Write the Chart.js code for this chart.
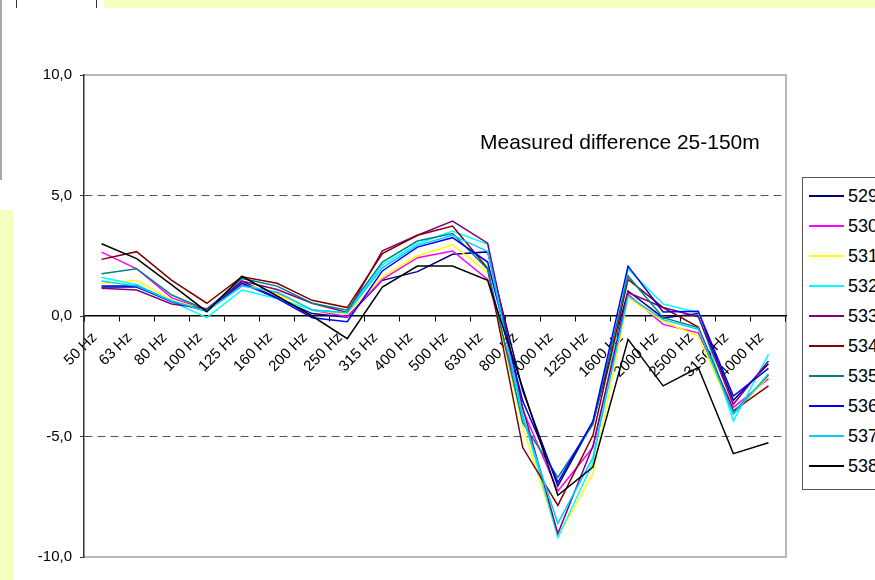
<!DOCTYPE html>
<html>
<head>
<meta charset="utf-8">
<title>Measured difference 25-150m</title>
<script src="https://cdn.jsdelivr.net/npm/chart.js@4.4.1/dist/chart.umd.min.js"></script>
<style>
    body { margin: 0; background: #fff; font-family: "Liberation Sans", Arial, sans-serif; }
    #wrap { position: relative; width: 875px; height: 580px; overflow: hidden; background: #fff; }
    #chart { position: absolute; left: 0; top: 0; }
    .sheet { position: absolute; }
    #title { position: absolute; left: 480px; top: 130px; font-size: 21px; color: #000; white-space: nowrap; }
    #legend { position: absolute; left: 802px; top: 177px; width: 110px; height: 311px; border: 1px solid #555; background: #fff; }
    .item { position: absolute; left: 0; height: 20px; }
    .item .swatch { position: absolute; left: 6px; top: 9px; width: 35px; height: 2px; }
    .item .label { position: absolute; left: 45px; top: 0; font-size: 18px; line-height: 20px; color: #000; }
</style>
</head>
<body>
<div id="wrap">
    <!-- bits of the spreadsheet around the chart -->
    <div class="sheet" style="left:104px; top:0; width:771px; height:8px; background:#f2ffbf;"></div>
    <div class="sheet" style="left:0; top:210px; width:13px; height:370px; background:#f2ffbf;"></div>
    <div class="sheet" style="left:0; top:0; width:2px; height:180px; background:#a8a8a8;"></div>
    <div class="sheet" style="left:16px; top:0; width:1px; height:8px; background:#333;"></div>
    <div class="sheet" style="left:96px; top:0; width:1px; height:8px; background:#333;"></div>

    <canvas id="chart" width="875" height="580"></canvas>
    <div id="title">Measured difference 25-150m</div>
    <div id="legend"></div>
</div>

<script>
const labels = ['50 Hz', '63 Hz', '80 Hz', '100 Hz', '125 Hz', '160 Hz', '200 Hz', '250 Hz', '315 Hz', '400 Hz',
    '500 Hz', '630 Hz', '800 Hz', '1000 Hz', '1250 Hz', '1600 Hz', '2000 Hz', '2500 Hz', '3150 Hz', '4000 Hz'];

const yTicks = [-10, -5, 0, 5, 10];

const seriesNames = ['529', '530', '531', '532', '533', '534', '535', '536', '537', '538'];

const s529 = [1.2, 1.2, 0.6, 0.25, 1.45, 0.75, 0.1, -0.05, 1.48, 1.84, 2.56, 2.66, -3.1, -7.05, -4.4, 1.04, -0.08, 0.1, -3.5, -1.98];
const s530 = [2.65, 1.96, 0.75, 0.25, 1.3, 0.95, 0.25, -0.03, 1.52, 2.42, 2.7, 1.52, -3.9, -7.26, -5.45, 0.9, -0.35, -0.7, -3.8, -2.6];
const s531 = [1.35, 1.48, 0.65, 0.25, 1.35, 0.9, 0.25, 0.07, 1.62, 2.49, 2.95, 1.8, -4.6, -9.13, -6.55, 0.76, -0.22, -0.83, -4.08, -2.5];
const s532 = [1.6, 1.3, 0.6, -0.07, 1.08, 0.73, 0.25, 0.14, 2.12, 3.0, 3.53, 2.97, -4.1, -9.2, -6.08, 1.95, 0.5, 0.14, -4.36, -1.59];
const s533 = [1.15, 1.08, 0.5, 0.3, 1.45, 1.1, 0.53, 0.15, 2.7, 3.35, 3.94, 3.02, -3.8, -9.03, -5.4, 0.97, 0.35, -0.03, -3.66, -1.87];
const s534 = [2.35, 2.67, 1.48, 0.53, 1.63, 1.36, 0.65, 0.35, 2.59, 3.35, 3.73, 1.98, -5.46, -7.86, -4.95, 1.52, 0.35, -0.46, -3.94, -2.9];
const s535 = [1.75, 1.96, 0.87, 0.25, 1.56, 1.24, 0.53, 0.24, 2.24, 3.11, 3.42, 1.94, -4.43, -6.7, -4.5, 1.66, -0.07, -0.48, -4.0, -2.45];
const s536 = [1.25, 1.24, 0.6, 0.2, 1.36, 0.73, -0.07, -0.24, 1.87, 2.86, 3.25, 2.24, -3.53, -6.9, -4.36, 2.07, 0.17, 0.2, -3.32, -2.17];
const s537 = [1.45, 1.24, 0.62, 0.2, 1.24, 1.0, 0.25, 0.14, 2.0, 2.93, 3.35, 2.68, -4.2, -8.6, -5.88, 0.83, -0.15, -0.55, -4.08, -2.4];
const s538 = [3.0, 2.38, 1.29, 0.18, 1.65, 0.83, 0.0, -0.94, 1.2, 2.07, 2.07, 1.48, -3.0, -7.44, -6.27, -0.97, -2.9, -2.14, -5.71, -5.26];

const seriesValues = [s529, s530, s531, s532, s533, s534, s535, s536, s537, s538];
const seriesColors = ['#000080', '#ff00ff', '#ffff00', '#00ffff', '#800080', '#800000', '#008080', '#0000ff', '#00ccff', '#000000'];

const font = '"Liberation Sans", Arial, sans-serif';

let datasets = seriesNames.map((name, i) => ({
    label: name,
    data: seriesValues[i],
    borderColor: seriesColors[i],
    backgroundColor: seriesColors[i],
    borderWidth: 1.5,
    pointRadius: 0,
    tension: 0,
    fill: false,
    order: seriesNames.length - i // later series on top, like excel
}));

// grey frame round the plot area (left side is the y axis)
const plotFrame = {
    id: 'plotFrame',
    beforeDraw(chart) {
        let a = chart.chartArea;
        let ctx = chart.ctx;
        ctx.save();
        ctx.strokeStyle = '#a0a0a0';
        ctx.lineWidth = 1.5;
        ctx.beginPath();
        ctx.moveTo(a.left, a.top);
        ctx.lineTo(a.right, a.top);
        ctx.lineTo(a.right, a.bottom);
        ctx.lineTo(a.left, a.bottom);
        ctx.stroke();
        ctx.restore();
    }
};

let ctx = document.getElementById('chart').getContext('2d');
window.myChart = new Chart(ctx, {
    type: 'line',
    data: { labels: labels, datasets: datasets },
    plugins: [plotFrame],
    options: {
        responsive: false,
        animation: false,
        layout: { padding: { left: 0, top: 75, right: 89, bottom: 23 } },
        plugins: {
            legend: { display: false },
            tooltip: { enabled: false }
        },
        scales: {
            x: {
                type: 'category',
                position: { y: 0 },
                offset: true,
                grid: {
                    offset: true,
                    drawOnChartArea: false,
                    drawTicks: true,
                    tickLength: 5,
                    tickColor: '#000'
                },
                border: { display: true, color: '#000', width: 1.5 },
                ticks: {
                    autoSkip: false,
                    minRotation: 45,
                    maxRotation: 45,
                    padding: 8,
                    labelOffset: -7,
                    color: '#000',
                    font: { family: font, size: 15 }
                }
            },
            y: {
                min: -10,
                max: 10,
                afterFit: function (scale) { scale.width = 84; },
                afterBuildTicks: function (scale) { scale.ticks = yTicks.map(v => ({ value: v })); },
                grid: {
                    color: c => (c.tick && Math.abs(c.tick.value) === 5) ? '#555' : 'rgba(0,0,0,0)',
                    lineWidth: 1,
                    drawTicks: true,
                    tickLength: 4,
                    tickColor: '#333'
                },
                border: {
                    display: true,
                    color: '#333',
                    width: 1.5,
                    dash: c => (c.tick && Math.abs(c.tick.value) === 5) ? [8, 5] : []
                },
                ticks: {
                    padding: 8,
                    color: '#000',
                    font: { family: font, size: 15 },
                    callback: v => v.toFixed(1).replace('.', ',')
                }
            }
        }
    }
});

// legend box on the right, built from the series
let legendDiv = document.getElementById('legend');
for (let i = 0; i < seriesNames.length; i++) {
    let item = document.createElement('div');
    item.className = 'item';
    item.style.top = (8 + 30 * i) + 'px';
    item.innerHTML = `<div class="swatch" style="background:${seriesColors[i]}"></div><div class="label">${seriesNames[i]}</div>`;
    legendDiv.appendChild(item);
}
</script>
</body>
</html>
